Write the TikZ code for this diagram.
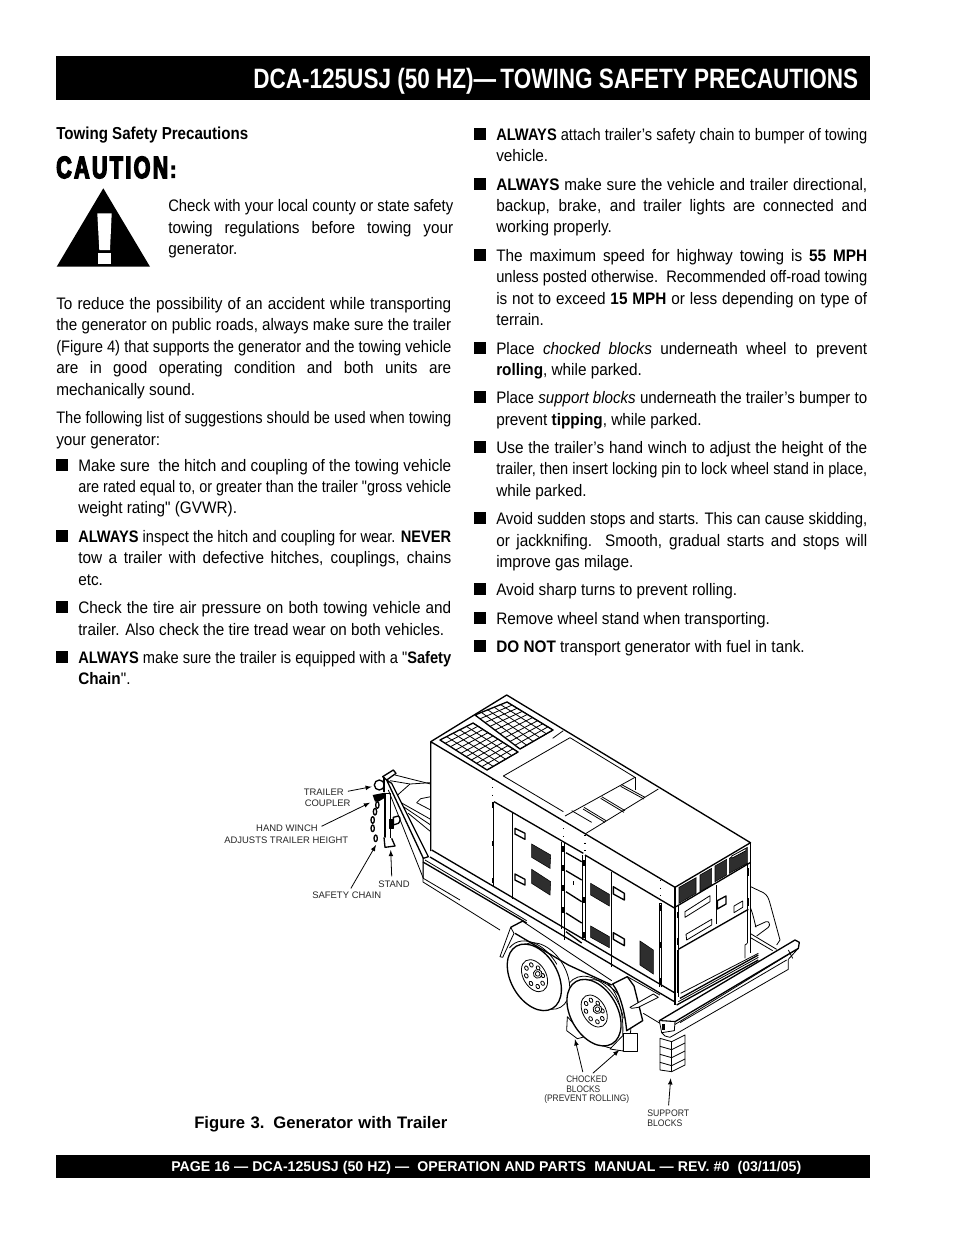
\documentclass[tikz,border=0pt]{standalone}
\usepackage{fontspec}
\usepackage{graphicx}
\setmainfont[FakeStretch=0.92,Ligatures=TeXOff]{Liberation Sans}
\newfontfamily\plainfont{Liberation Sans}
\newfontfamily\cautionfont[FakeStretch=0.8,FakeBold=5,LetterSpace=9]{Liberation Sans}

\newsavebox\linebox
\newlength\linew
% squeeze or spread one line to a width given in pixels
\newcommand{\fitline}[2]{\setlength\linew{\dimexpr#1pt*3/4\relax}\sbox\linebox{#2}%
  \ifdim\wd\linebox>\linew\resizebox{\linew}{\height}{#2}\else\hbox to \linew{#2}\fi}
\newcommand{\txl}[3]{\node[bodytext] (t#1-#2) at (#1,{#2+6}) {#3};}
\newcommand{\txj}[4]{\node[bodytext] (t#1-#2) at (#1,{#2+6}) {\fitline{#3}{#4}};}
% one wheel: fender arc, face, hub ring, lug holes
\newcommand{\roadwheel}[3]{
  \begin{scope}[shift={(#1,#2)},rotate=-60]
    \draw[ln] (165:118 and 78) arc[start angle=165,end angle=#3,x radius=118,y radius=78];
    \draw[lnb,fill=white] (0,0) ellipse[x radius=108,y radius=70];
    \draw[ln] (-4,-3) ellipse[x radius=52,y radius=34];
    \foreach \a in {20,65,...,335} \draw[ln] ($(-4,-3)+(\a:35 and 23)$) ellipse[x radius=7,y radius=5];
    \draw[ln,fill=white] (-4,-14) circle[radius=13];
    \draw[ln] (-4,-14) circle[radius=7];
  \end{scope}}

\usetikzlibrary{calc}
\tikzset{
  bodytext/.style={anchor=base west,inner sep=0pt,font=\fontsize{12.5}{14}\selectfont},
  tag/.style={inner sep=0pt,font=\plainfont\fontsize{7.1}{9}\selectfont,text=black!85},
  ln/.style={line width=.6pt,line join=round},
  lnb/.style={line width=1pt,line join=round},
  dots/.style={line width=.7pt,dash pattern=on .7pt off 5pt},
  callout/.style={-latex,line width=.6pt,shorten <=3pt},
  vent/.style={fill=black!82,draw=black,line width=.4pt},
  hinge/.style={fill=black}
}

\begin{document}
\begin{tikzpicture}[x=.75pt,y=-.75pt]
  \useasboundingbox (0,0) rectangle (954,1235);

  % title and footer bars
  \node[fill=black,inner sep=0pt,minimum width=610.5pt,minimum height=33pt] (titlebar) at (463,78) {};
  \node[anchor=base west,inner sep=0pt,text=white,font=\bfseries\fontsize{21}{24}\selectfont] (titletext) at (253,88)
    {\fitline{605}{DCA-125USJ (50 HZ)—\,TOWING SAFETY PRECAUTIONS}};
  \node[fill=black,inner sep=0pt,minimum width=610.5pt,minimum height=17.5pt] (footbar) at (463,1166.5) {};
  \node[anchor=base west,inner sep=0pt,text=white,font=\plainfont\bfseries\fontsize{10.6}{12}\selectfont] (foottext) at (171,1171)
    {\fitline{630}{PAGE 16 — DCA-125USJ (50 HZ) —\ \ OPERATION AND PARTS\ \ MANUAL — REV. \#0\ \ (03/11/05)}};

  % left column
  \node[bodytext,font=\bfseries\fontsize{13}{14}\selectfont] (subhead) at (56,139) {\fitline{192}{Towing Safety Precautions}};
  \node[anchor=base west,inner sep=0pt,font=\cautionfont\bfseries\fontsize{23}{26}\selectfont] (cautionword) at (56,178) {\fitline{112}{CAUTION}};
  \node[anchor=base west,inner sep=0pt,font=\cautionfont\bfseries\fontsize{17}{18}\selectfont] (cautioncolon) at (170,177.5) {:};
  \fill (103.3,188.3) -- (150,266.7) -- (56.7,266.7) -- cycle;
  \fill[white] (97.3,213.3) -- (111.7,213.3) -- (110,250) -- (99.3,250) -- cycle;
  \fill[white] (98,253.3) rectangle (111.3,264);

  \txj{168}{205}{285}{Check with your local county or state safety}
  \txj{168}{227}{285}{towing regulations before towing your}
  \txl{168}{248}{generator.}
  \txj{56}{303}{395}{To reduce the possibility of an accident while transporting}
  \txj{56}{324}{395}{the generator on public roads, always make sure the trailer}
  \txj{56}{346}{395}{(Figure 4) that supports the generator and the towing vehicle}
  \txj{56}{367}{395}{are in good operating condition and both units are}
  \txl{56}{389}{mechanically sound.}
  \txj{56}{417}{395}{The following list of suggestions should be used when towing}
  \txl{56}{439}{your generator:}
  \txj{78}{465}{373}{Make sure\ \ the hitch and coupling of the towing vehicle}
  \txj{78}{486}{373}{are rated equal to, or greater than the trailer "gross vehicle}
  \txl{78}{507}{weight rating" (GVWR).}
  \txj{78}{536}{373}{\textbf{ALWAYS} inspect the hitch and coupling for wear. \textbf{NEVER}}
  \txj{78}{557}{373}{tow a trailer with defective hitches, couplings, chains}
  \txl{78}{579}{etc.}
  \txj{78}{607}{373}{Check the tire air pressure on both towing vehicle and}
  \txj{78}{629}{366}{trailer. Also check the tire tread wear on both vehicles.}
  \txj{78}{657}{373}{\textbf{ALWAYS} make sure the trailer is equipped with a "\textbf{Safety}}
  \txl{78}{678}{\textbf{Chain}".}

  % right column
  \txj{496}{134}{371}{\textbf{ALWAYS} attach trailer’s safety chain to bumper of towing}
  \txl{496}{155}{vehicle.}
  \txj{496}{184}{371}{\textbf{ALWAYS} make sure the vehicle and trailer directional,}
  \txj{496}{205}{371}{backup, brake, and trailer lights are connected and}
  \txl{496}{226}{working properly.}
  \txj{496}{255}{371}{The maximum speed for highway towing is \textbf{55 MPH}}
  \txj{496}{276}{371}{unless posted otherwise.\ \ Recommended off-road towing}
  \txj{496}{298}{371}{is not to exceed \textbf{15 MPH} or less depending on type of}
  \txl{496}{319}{terrain.}
  \txj{496}{348}{371}{Place \textit{chocked blocks} underneath wheel to prevent}
  \txl{496}{369}{\textbf{rolling}, while parked.}
  \txj{496}{397}{371}{Place \textit{support blocks} underneath the trailer’s bumper to}
  \txl{496}{419}{prevent \textbf{tipping}, while parked.}
  \txj{496}{447}{371}{Use the trailer’s hand winch to adjust the height of the}
  \txj{496}{468}{371}{trailer, then insert locking pin to lock wheel stand in place,}
  \txl{496}{490}{while parked.}
  \txj{496}{518}{371}{Avoid sudden stops and starts. This can cause skidding,}
  \txj{496}{540}{371}{or jackknifing.\ \ Smooth, gradual starts and stops will}
  \txl{496}{561}{improve gas milage.}
  \txl{496}{589}{Avoid sharp turns to prevent rolling.}
  \txl{496}{618}{Remove wheel stand when transporting.}
  \txl{496}{646}{\textbf{DO NOT} transport generator with fuel in tank.}

  % bullets
  \foreach \y in {465,536,607,657} \fill (56,\y-6) rectangle +(12,12);
  \foreach \y in {134,184,255,348,397,447,518,589,618,646} \fill (474,\y-6) rectangle +(12,12);

  % far side fender, seen past the generator
  \begin{scope}[shift={(660,830)},scale=1/3]
    \draw[ln] (272,170) -- (310,188) .. controls (322,195) and (326,205) .. (330,220) -- (360,330) -- (350,345);
    \draw[ln] (272,235) .. controls (280,255) and (282,270) .. (288,292);
    \draw[ln] (285,290) -- (318,275) .. controls (328,272) and (332,285) .. (325,292) -- (290,318);
    \draw[ln] (270,310) -- (350,358);
    \draw[ln] (270,322) -- (338,362);
  \end{scope}

  % tongue, stand, chain
  \begin{scope}[shift={(360,760)},scale=1/3]
    \draw[ln] (105,45) -- (212,72);
    \draw[ln] (90,62) -- (150,72) -- (212,68);
    \draw[ln] (150,72) -- (105,112);
    \draw[ln] (118,125) -- (212,178);
    \draw[ln] (130,140) -- (212,195);
    \draw[ln] (145,160) -- (212,215);
    \draw[ln] (170,128) -- (182,116) -- (212,110);
    \draw[ln] (170,128) -- (212,150);
    \draw[lnb,fill=white] (58,75) circle[radius=15];
    \draw[lnb,fill=white] (75,100) rectangle (92,240);
    \draw[lnb,fill=white] (72,232) -- (75,262) -- (105,258) -- (95,235);
    \fill (38,105) -- (75,98) -- (72,115) -- (55,125) -- (45,125) -- cycle;
    \foreach \cx/\cy in {52/135,45/155,38/180,38/205,47/235}
      \draw[lnb] (\cx,\cy) ellipse[x radius=5,y radius=10];
    \draw[lnb,fill=white] (100,172) -- (115,168) .. controls (122,172) and (122,185) .. (115,190) -- (100,195) -- cycle;
    \draw[ln,fill=black] (88,178) rectangle (100,205);
    \draw[lnb,fill=white] (80,60) -- (190,295) -- (205,290) -- (95,70) -- cycle;
    \draw[lnb,fill=white] (68,50) -- (100,30) -- (108,40) -- (80,60) -- cycle;
    \draw[lnb] (72,50) -- (72,95);
    \draw[ln] (85,90) -- (190,355);
    \draw[ln] (190,295) -- (190,355) -- (300,420);
  \end{scope}

  % generator housing
  \fill[white] (430.7,741.7) -- (506.7,695) -- (750.5,842.7) -- (750.7,955) -- (675,1005) -- (430.7,851) -- cycle;
  \draw[lnb] (430.7,851) -- (430.7,741.7) -- (506.7,695) -- (750.5,842.7) -- (675,887.3) -- (430.7,741.7);
  % roof grilles
  \foreach \ax/\ay/\bx/\by/\cx/\cy/\dx/\dy/\nu/\nv in {440/740/473/723/518/752/487/770/9/5,475/715/507/702/553/730/520/749/9/5}{
    \draw[lnb] (\ax,\ay) -- (\bx,\by) -- (\cx,\cy) -- (\dx,\dy) -- cycle;
    \foreach \i in {1,...,\nu} \pgfmathsetmacro{\t}{\i/\nu}
      \draw[ln] ({\ax+\t*(\dx-\ax)},{\ay+\t*(\dy-\ay)}) -- ({\bx+\t*(\cx-\bx)},{\by+\t*(\cy-\by)});
    \foreach \i in {1,...,\nv} \pgfmathsetmacro{\t}{\i/\nv}
      \draw[ln] ({\ax+\t*(\bx-\ax)},{\ay+\t*(\by-\ay)}) -- ({\dx+\t*(\cx-\dx)},{\dy+\t*(\cy-\dy)});
  }
  % roof panels and louvres
  \begin{scope}[shift={(500,690)},scale=1/3]
    \draw[ln] (190,122) -- (158,145);
    \draw[ln] (10,258) -- (210,143) -- (405,262);
    \draw[ln] (10,258) -- (190,365);
    \draw[ln] (195,378) -- (405,262);
    \draw[ln] (255,432) -- (475,297);
    \draw[ln] (405,262) -- (405,300);
    \draw[ln] (215,362) -- (275,397);
    \foreach \ax/\ay/\bx/\by in {252/352/318/392,305/320/375/362,365/284/435/322}{
      \draw[ln] (\ax,\ay) -- (\bx,\by);
      \draw[ln] (\ax-3,\ay+5) -- (\bx-3,\by+5);
    }
  \end{scope}

  % long side, back section
  \begin{scope}[shift={(420,770)},scale=1/3]
    \draw[lnb] (222,95) -- (490,250);
    \draw[dots] (218,28) -- (218,95);
    \draw[dots] (430,152) -- (430,212);
    \draw[dots] (492,195) -- (492,250);
    \draw[lnb] (220,95) -- (220,350);
    \draw[lnb] (278,128) -- (278,388);
    \foreach \y in {105,220,332} \fill[hinge] (215,\y-8) rectangle +(7,16);
    \draw[lnb] (285,175) -- (315,190) -- (315,208) -- (285,192) -- cycle;
    \draw[lnb] (285,312) -- (315,328) -- (315,345) -- (285,330) -- cycle;
    \draw[vent] (335,222) -- (392,255) -- (390,295) -- (335,262) -- cycle;
    \draw[vent] (335,298) -- (392,335) -- (390,375) -- (335,340) -- cycle;
    \draw[lnb] (425,215) -- (425,478);
    \draw[lnb] (433,215) -- (433,510);
    \foreach \y in {228,285,345,410} \fill[hinge] (425,\y) rectangle +(8,18);
    \fill[hinge] (459,332) rectangle +(4,14);
    \draw[lnb] (488,255) -- (488,510);
    \draw[lnb] (497,255) -- (497,510);
    \foreach \y in {270,380,485} \fill[hinge] (488,\y) rectangle +(9,18);
  \end{scope}

  % ladder bars
  \foreach \ya/\yb in {852.7/861.7,870.7/880,891.7/901.7,913/923,931.7/943}
    \draw[lnb] (566,\ya) -- (581.7,\yb);

  % long side, middle and front section
  \begin{scope}[shift={(560,830)},scale=1/3]
    \draw[lnb] (75,75) -- (345,235);
    \draw[dots] (75,15) -- (75,75);
    \draw[lnb] (155,125) -- (155,410);
    \draw[vent] (92,160) -- (148,193) -- (148,228) -- (92,195) -- cycle;
    \draw[vent] (92,288) -- (148,320) -- (148,353) -- (92,322) -- cycle;
    \draw[lnb] (160,170) -- (193,190) -- (193,210) -- (160,192) -- cycle;
    \draw[lnb] (160,308) -- (193,327) -- (193,347) -- (160,328) -- cycle;
    \draw[vent] (240,333) -- (280,360) -- (280,432) -- (240,405) -- cycle;
    \draw[dots] (302,150) -- (302,220);
    \draw[lnb] (298,220) -- (298,470);
    \draw[ln] (305,220) -- (305,470);
    \foreach \y in {225,335,445} \fill[hinge] (297,\y) rectangle +(9,18);
    \draw[lnb] (345,170) -- (345,525);
    \draw[ln] (355,235) -- (355,500);
    \foreach \y in {245,325} \fill[hinge] (350,\y) rectangle +(7,20);
  \end{scope}

  % base of the housing and trailer deck
  \draw[lnb] (431.7,850) -- (675,993);
  \draw[lnb] (430,857) -- (675,1002);
  \draw[ln] (425,860) -- (526.7,920.7);
  \draw[lnb] (423,862) -- (526.7,923);
  \draw[ln] (423,858) -- (423,882) -- (500,930);

  % front of the housing
  \begin{scope}[shift={(660,830)},scale=1/3]
    \draw[lnb] (272,38) -- (272,370);
    \draw[ln] (262,100) -- (262,340);
    \draw[lnb] (48,230) -- (272,97);
    \draw[vent] (57,172) -- (108,143) -- (108,190) -- (57,220) -- cycle;
    \draw[vent] (120,135) -- (155,115) -- (155,165) -- (120,185) -- cycle;
    \draw[vent] (165,108) -- (200,88) -- (200,135) -- (165,155) -- cycle;
    \draw[vent] (208,85) -- (262,52) -- (262,100) -- (208,130) -- cycle;
    \draw[ln,fill=white] (215,78) -- (258,55) -- (258,62) -- (215,85) -- cycle;
    \draw[ln] (168,165) -- (168,282);
    \draw[ln] (55,225) -- (55,355);
    \draw[lnb] (55,358) -- (265,238);
    \draw[ln] (75,245) -- (150,197) -- (150,215) -- (75,262) -- cycle;
    \draw[ln] (78,313) -- (155,268) -- (155,285) -- (80,330) -- cycle;
    \draw[lnb] (172,212) -- (198,198) -- (198,222) -- (172,237) -- cycle;
    \draw[ln] (222,228) -- (248,213) -- (248,232) -- (222,248) -- cycle;
    \draw[ln] (52,360) -- (52,490);
    \draw[ln] (262,340) -- (255,345) -- (255,385);
    \draw[ln] (62,490) -- (295,370);
    \draw[lnb] (60,505) -- (295,375);
    \draw[ln] (55,515) -- (295,382);
    \draw[lnb] (50,525) -- (295,390);
    \foreach \y in {115,205} \fill[hinge] (260,\y) rectangle +(8,22);
  \end{scope}

  % wheels, fenders, chocks
  \begin{scope}[shift={(490,920)},scale=1/3]
    \draw[ln,fill=white] (232,290) -- (230,332) -- (262,356) -- (285,350) -- cycle;
    \draw[ln,fill=white] (158,168) ellipse[x radius=108,y radius=70,rotate=-60];
    \roadwheel{133}{172}{270}
    \draw[ln] (95,2) -- (365,182);
    \draw[lnb] (75,40) -- (235,135) -- (365,195);
    \draw[ln,fill=white] (62,22) -- (30,110) -- (38,112) -- (72,40) -- cycle;
    \draw[lnb] (62,22) -- (100,2);
    \draw[ln,fill=white] (340,282) ellipse[x radius=112,y radius=70,rotate=-60];
    \roadwheel{312}{278}{300}
    \draw[lnb,fill=white] (368,192) -- (412,170) -- (432,198) -- (458,302) -- (410,332) .. controls (405,280) and (392,225) .. cycle;
    \draw[ln] (355,192) .. controls (388,225) and (402,290) .. (398,345);
    \draw[ln,fill=white] (420,262) -- (490,222) -- (505,232) -- (445,262) -- (425,265) -- cycle;
    \draw[ln,fill=white] (360,387) -- (400,345) -- (400,393) -- cycle;
    \draw[ln,fill=white] (400,340) rectangle (443,395);
    \draw[ln] (412,170) -- (510,225);
  \end{scope}

  % support blocks and bumper
  \begin{scope}[shift={(480,900)},scale=1/3]
    \draw[ln,fill=white] (540,415) -- (575,425) -- (615,405) -- (615,495) -- (575,515) -- (540,510) -- cycle;
    \draw[ln] (575,425) -- (575,515);
    \foreach \i in {1,2,3} \draw[ln] (540,415+24*\i) -- (575,425+24*\i) -- (615,405+24*\i);
    \draw[ln] (490,340) -- (540,370);
    \draw[ln,fill=white] (955,145) -- (925,178) -- (925,208) -- (570,412) -- (555,408) -- (545,398) -- cycle;
    \draw[ln] (920,180) -- (600,368);
    \draw[lnb,fill=white] (538,362) -- (945,120) -- (958,127) -- (955,145) -- (585,365) -- cycle;
    \draw[ln,fill=white] (538,362) -- (545,398) -- (583,392) -- (585,365) -- cycle;
    \fill (545,372) rectangle +(10,18);
    \draw[ln] (925,150) -- (938,175);
  \end{scope}

  % callouts
  \coordinate (tipCoupler) at (371.7,786.7);
  \coordinate (tipWinch) at (370,802.7);
  \coordinate (tipChain) at (376,845);
  \coordinate (tipStand) at (390.7,850);
  \coordinate (tipChockA) at (575,1039.3);
  \coordinate (tipChockB) at (619.3,1050);
  \coordinate (tipSupport) at (670.7,1078.3);

  \node[tag,anchor=east] (lblTrailer) at (344,792) {TRAILER};
  \node[tag,anchor=west] (lblCoupler) at (304.5,803) {COUPLER};
  \node[tag,anchor=east] (lblWinch) at (318,828) {HAND WINCH};
  \node[tag,anchor=west] (lblHeight) at (224,840) {\fitline{124}{ADJUSTS TRAILER HEIGHT}};
  \node[tag,anchor=west] (lblStand) at (378,884) {STAND};
  \node[tag,anchor=west] (lblChain) at (312,895.5) {\fitline{69}{SAFETY CHAIN}};
  \node[tag,anchor=west] (lblChocked) at (566,1079.5) {\fitline{41}{CHOCKED}};
  \node[tag,anchor=west] (lblBlocksA) at (566,1089.5) {\fitline{34}{BLOCKS}};
  \node[tag,anchor=west] (lblRolling) at (544,1099) {\fitline{85}{(PREVENT ROLLING)}};
  \node[tag,anchor=west] (lblSupport) at (647,1113) {\fitline{42}{SUPPORT}};
  \node[tag,anchor=west] (lblBlocksB) at (647,1123.5) {\fitline{35}{BLOCKS}};

  \draw[callout] (lblTrailer.east) -- (tipCoupler);
  \draw[callout] (lblWinch.east) -- (tipWinch);
  \draw[callout] (lblChain.60) -- (tipChain);
  \draw[callout] (lblStand.120) -- (tipStand);
  \draw[callout] (lblChocked.130) -- (tipChockA);
  \draw[callout] (lblChocked.50) -- (tipChockB);
  \draw[callout] (lblSupport.north) -- (tipSupport);

  \node[anchor=base west,inner sep=0pt,font=\plainfont\bfseries\fontsize{12.5}{14}\selectfont] (figcaption) at (194,1128.5) {\fitline{253}{Figure 3. Generator with Trailer}};
\end{tikzpicture}
\end{document}
